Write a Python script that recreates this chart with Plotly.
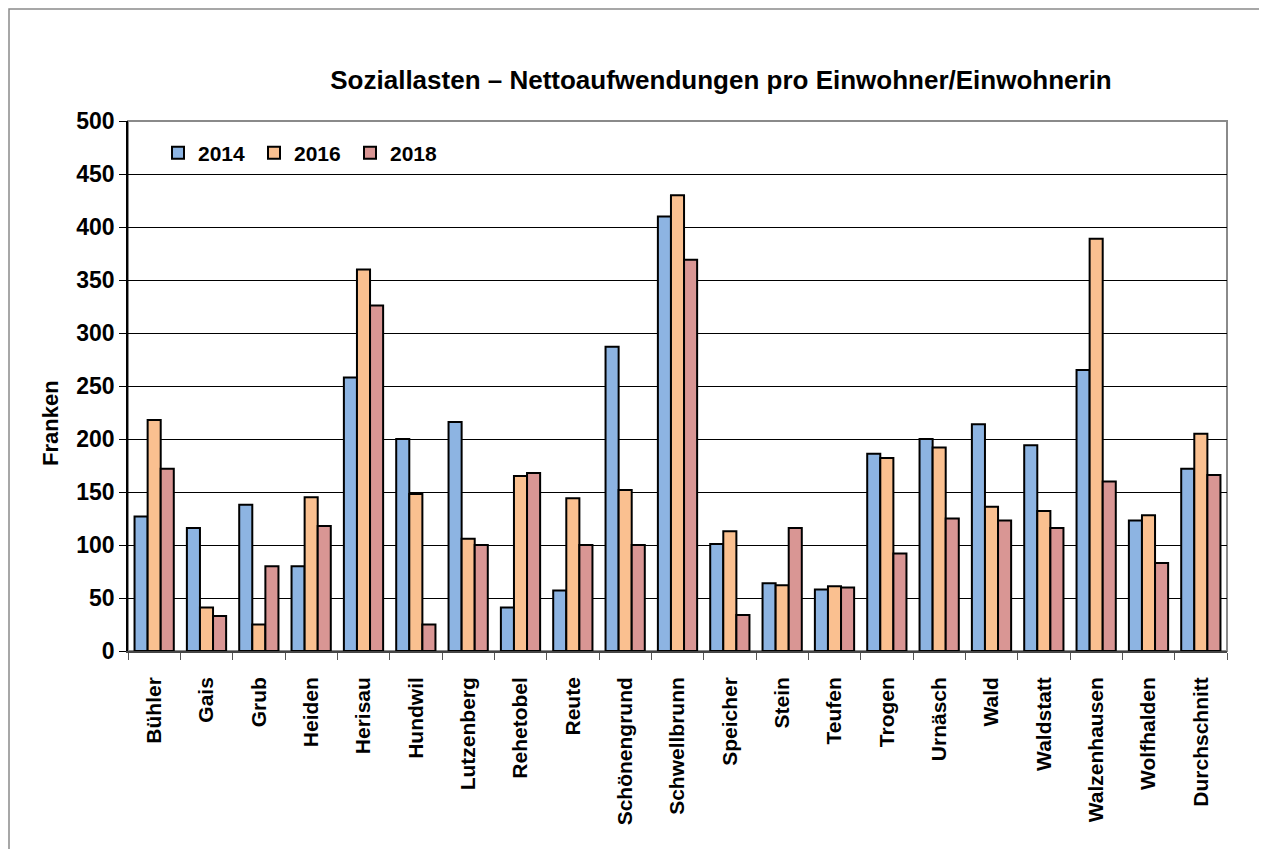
import plotly.graph_objects as go

categories = ["Bühler", "Gais", "Grub", "Heiden", "Herisau", "Hundwil", "Lutzenberg",
              "Rehetobel", "Reute", "Schönengrund", "Schwellbrunn", "Speicher", "Stein",
              "Teufen", "Trogen", "Urnäsch", "Wald", "Waldstatt", "Walzenhausen",
              "Wolfhalden", "Durchschnitt"]
v2014 = [127, 116, 138, 80, 258, 200, 216, 41, 57, 287, 410, 101, 64, 58, 186, 200, 214, 194, 265, 123, 172]
v2016 = [218, 41, 25, 145, 360, 148, 106, 165, 144, 152, 430, 113, 62, 61, 182, 192, 136, 132, 389, 128, 205]
v2018 = [172, 33, 80, 118, 326, 25, 100, 168, 100, 100, 369, 34, 116, 60, 92, 125, 123, 116, 160, 83, 166]
series_names = ["2014", "2016", "2018"]
colors = ["#8DB4E2", "#FAC090", "#D99694"]
y_ticks = [0, 50, 100, 150, 200, 250, 300, 350, 400, 450, 500]

FONT = "Liberation Sans"
W, H = 1259, 841          # page has 8px body margin
L, R, T, B = 120, 40, 113, 198
PW = W - L - R
PH = H - T - B

fig = go.Figure()
for name, vals, col in zip(series_names, [v2014, v2016, v2018], colors):
    fig.add_trace(go.Bar(
        x=categories, y=vals, name=name,
        marker=dict(color=col, line=dict(color="black", width=2)),
    ))

fig.update_layout(
    width=W, height=H,
    margin=dict(l=L, r=R, t=T, b=B),
    paper_bgcolor="white", plot_bgcolor="white",
    barmode="group", bargap=0.25, bargroupgap=0,
    font=dict(family=FONT, size=20, color="black", weight="bold"),
    title=dict(text="Soziallasten – Nettoaufwendungen pro Einwohner/Einwohnerin",
               x=713 / W, xanchor="center", y=1 - 72 / H, yanchor="middle",
               font=dict(family=FONT, size=26, color="black", weight="bold")),
    legend=dict(orientation="h", x=30 / PW, y=1 - 32 / PH, xanchor="left", yanchor="middle",
                font=dict(family=FONT, size=21, color="black", weight="bold"),
                bgcolor="rgba(0,0,0,0)", entrywidth=51, entrywidthmode="pixels",
                traceorder="normal"),
    xaxis=dict(type="category", tickangle=-90, showgrid=False,
               showline=True, linecolor="#444", linewidth=1.5,
               ticks="outside", ticklen=7, tickcolor="#555", tickson="boundaries",
               ticklabelstandoff=16,
               tickfont=dict(family=FONT, size=21, color="black", weight="bold")),
    yaxis=dict(range=[0, 500], tickvals=y_ticks, showgrid=True, gridcolor="black",
               gridwidth=1, showline=True, linecolor="black", linewidth=1.5,
               ticks="outside", ticklen=7, tickcolor="black", zeroline=False,
               tickfont=dict(family=FONT, size=23, color="black", weight="bold")),
    shapes=[
        dict(type="rect", xref="paper", yref="paper", x0=0, x1=1, y0=0, y1=1,
             line=dict(color="#8a8a8a", width=2), layer="below"),
        dict(type="rect", xref="paper", yref="paper",
             x0=(1 - L) / PW, x1=(1253 - L) / PW,
             y0=-0.5, y1=(PH + T - 1) / PH,
             line=dict(color="#8a8a8a", width=1.5), layer="below"),
    ],
    annotations=[
        dict(text="Franken", xref="paper", yref="paper",
             x=(42 - L) / PW, y=(T + PH - 415) / PH, xanchor="center", yanchor="middle",
             textangle=-90, showarrow=False,
             font=dict(family=FONT, size=22, color="black", weight="bold")),
    ],
)

fig.write_html("out.html")
